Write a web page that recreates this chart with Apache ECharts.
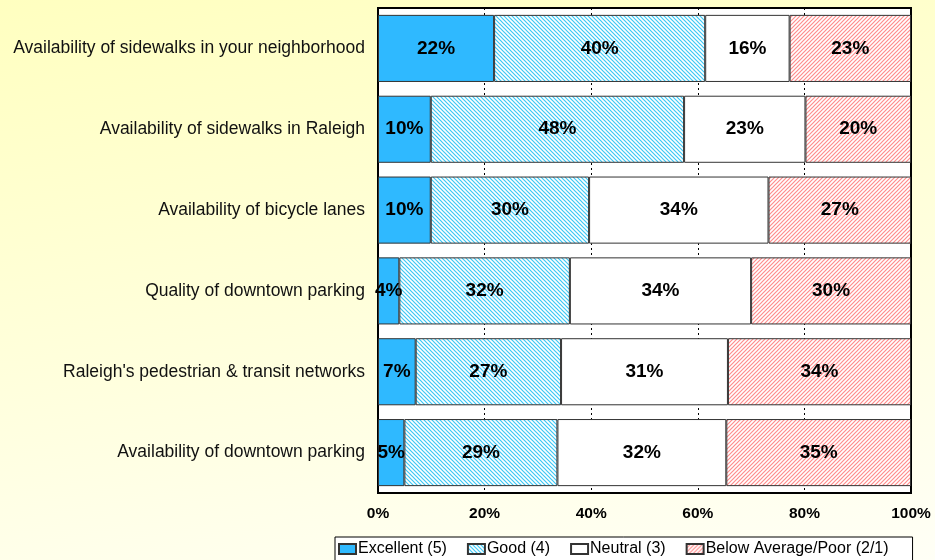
<!DOCTYPE html>
<html>
<head>
<meta charset="utf-8">
<script src="https://cdn.jsdelivr.net/npm/echarts@6/dist/echarts.min.js"></script>
<style>
html, body {
    margin: 0;
    padding: 0;
}
body {
    width: 935px;
    height: 560px;
    background: linear-gradient(170deg, #ffffc0 0%, #ffffd8 45%, #fffff6 100%);
}
#chart {
    width: 935px;
    height: 560px;
}
</style>
</head>
<body>
<div id="chart"></div>
<script>
// categories, top to bottom
var categories = [
    'Availability of sidewalks in your neighborhood',
    'Availability of sidewalks in Raleigh',
    'Availability of bicycle lanes',
    'Quality of downtown parking',
    "Raleigh's pedestrian & transit networks",
    'Availability of downtown parking'
];
var seriesNames = ['Excellent (5)', 'Good (4)', 'Neutral (3)', 'Below Average/Poor (2/1)'];
var excellent = [22, 10, 10, 4, 7, 5];
var good      = [40, 48, 30, 32, 27, 29];
var neutral   = [16, 23, 34, 34, 31, 32];
var poor      = [23, 20, 27, 30, 34, 35];
var xTicks = ['0%', '20%', '40%', '60%', '80%', '100%'];

var raw = [excellent, good, neutral, poor];

// hatched fill
function hatch(color, backslash) {
    var c = document.createElement('canvas');
    c.width = 4;
    c.height = 4;
    var ctx = c.getContext('2d');
    ctx.fillStyle = '#fff';
    ctx.fillRect(0, 0, 4, 4);
    ctx.strokeStyle = color;
    ctx.lineWidth = 1.2;
    ctx.beginPath();
    if (backslash) {
        ctx.moveTo(-1, -1); ctx.lineTo(5, 5);
        ctx.moveTo(-1, 3); ctx.lineTo(1, 5);
        ctx.moveTo(3, -1); ctx.lineTo(5, 1);
    } else {
        ctx.moveTo(-1, 5); ctx.lineTo(5, -1);
        ctx.moveTo(-1, 1); ctx.lineTo(1, -1);
        ctx.moveTo(3, 5); ctx.lineTo(5, 3);
    }
    ctx.stroke();
    return c;
}

var fills = [
    '#2fb9ff',
    { image: hatch('#3cc8f5', true), repeat: 'repeat' },
    '#ffffff',
    { image: hatch('#ff8c8c', false), repeat: 'repeat' }
];

var chart = echarts.init(document.getElementById('chart'));

var series = [];
raw.forEach(function (arr, si) {
    var data = arr.map(function (v, i) {
        var total = excellent[i] + good[i] + neutral[i] + poor[i];
        return { value: v / total * 100, label: v };
    });
    series.push({
        name: seriesNames[si],
        type: 'bar',
        stack: 'total',
        barCategoryGap: '17%',
        data: data,
        itemStyle: {
            color: fills[si],
            borderColor: '#333',
            borderWidth: 1
        },
        label: {
            show: true,
            position: 'inside',
            color: '#000',
            fontWeight: 'bold',
            fontSize: 19,
            formatter: function (p) {
                return p.data.label + '%';
            }
        }
    });
});

var option = {
    animation: false,
    textStyle: {
        fontFamily: 'Liberation Sans, Arial, sans-serif'
    },
    grid: {
        left: 378,
        right: 24,
        top: 8,
        bottom: 67,
        show: true,
        backgroundColor: '#fff',
        borderColor: '#000',
        borderWidth: 2,
        containLabel: false
    },
    legend: {
        data: seriesNames,
        icon: 'rect',
        left: 335,
        top: 537,
        itemWidth: 17,
        itemHeight: 10,
        itemGap: 20,
        padding: [4, 24, 10, 3],
        borderColor: '#000',
        borderWidth: 1,
        backgroundColor: '#fff',
        textStyle: {
            color: '#000',
            fontSize: 16,
            padding: [0, 0, 0, -3]
        }
    },
    xAxis: {
        type: 'value',
        min: 0,
        max: 100,
        interval: 20,
        axisLine: { show: false },
        axisTick: { show: false },
        axisLabel: {
            color: '#000',
            fontWeight: 'bold',
            fontSize: 15.5,
            margin: 13,
            formatter: function (v) {
                return xTicks[Math.round(v / 20)];
            }
        },
        splitLine: {
            show: true,
            lineStyle: {
                color: '#000',
                type: [2, 3],
                width: 1
            }
        }
    },
    yAxis: {
        type: 'category',
        inverse: true,
        data: categories,
        axisLine: { show: false },
        axisTick: { show: false },
        axisLabel: {
            color: '#111',
            fontSize: 17.5,
            margin: 13
        }
    },
    series: series
};

chart.setOption(option);
</script>
</body>
</html>
